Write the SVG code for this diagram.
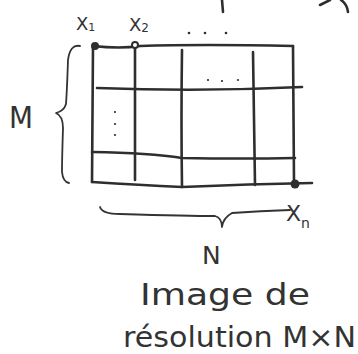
<svg xmlns="http://www.w3.org/2000/svg" width="358" height="354" viewBox="0 0 358 354">
<style>
.ln{fill:none;stroke:#2e2e2e;stroke-width:2.6;stroke-linecap:round;stroke-linejoin:round}
.th{fill:none;stroke:#333;stroke-width:1.8;stroke-linecap:round;stroke-linejoin:round}
.t{font-family:"DejaVu Sans","Liberation Sans",sans-serif;fill:#333}
.dot{fill:#2e2e2e}
</style>
<rect width="358" height="354" fill="#fff"/>
<g id="fragments">
<path class="ln" d="M222 0 L223 12"/>
<path class="ln" d="M330 0 L320 5"/>
<path class="ln" d="M341 0 Q347 4 348 12"/>
</g>
<g id="grid">
<path class="ln" d="M93 46 Q120 49 140 46 Q200 44 293 46"/>
<path class="ln" d="M97 88 Q200 92 302 87"/>
<path class="ln" d="M92 152 Q150 153 182 158 Q240 159 295 158"/>
<path class="ln" d="M92 182 Q140 185 182 187 Q250 184 312 183"/>
<path class="ln" d="M93 46 L92 182"/>
<path class="ln" d="M135 45 L135 180"/>
<path class="ln" d="M182 50 Q181 120 182 187"/>
<path class="ln" d="M253 52 L255 185"/>
<path class="ln" d="M293 46 L294 183"/>
<circle class="dot" cx="95" cy="46" r="4"/>
<circle cx="135" cy="45" r="3" fill="#fff" stroke="#2e2e2e" stroke-width="2"/>
<circle class="dot" cx="295" cy="184" r="4.5"/>
<g class="dot">
<circle cx="208" cy="80" r="1.1"/><circle cx="222" cy="81" r="1.1"/><circle cx="238" cy="80" r="1.1"/>
<circle cx="115" cy="112" r="1.1"/><circle cx="115" cy="124" r="1.1"/><circle cx="115" cy="135" r="1.1"/>
<circle cx="189" cy="33" r="1.3"/><circle cx="205" cy="33" r="1.3"/><circle cx="226" cy="33" r="1.3"/>
</g>
</g>
<g id="braces">
<path class="th" d="M80 46 Q70 44 68 60 Q67 90 66 104 Q64 111 56 113 Q63 116 63 128 Q62 160 62 172 Q63 182 69 183"/>
<path class="th" d="M100 207 Q102 214 120 214 Q190 216 215 216 Q222 218 222 227 Q223 218 232 213 Q260 211 290 210"/>
</g>
<g id="labels">
<text class="t" x="76" y="30" font-size="18">X<tspan font-size="11" dy="1">1</tspan></text>
<text class="t" x="129" y="31" font-size="18">X<tspan font-size="12" dy="1">2</tspan></text>
<text class="t" x="286" y="221" font-size="22">X<tspan font-size="14" dy="7">n</tspan></text>
<text class="t" x="9" y="128" font-size="30" textLength="24" lengthAdjust="spacingAndGlyphs">M</text>
<text class="t" x="202" y="264" font-size="25">N</text>
<text class="t" x="140" y="305" font-size="30" textLength="170" lengthAdjust="spacingAndGlyphs">Image de</text>
<text class="t" x="123" y="347" font-size="28" textLength="233" lengthAdjust="spacingAndGlyphs">résolution M×N</text>
</g>
</svg>
